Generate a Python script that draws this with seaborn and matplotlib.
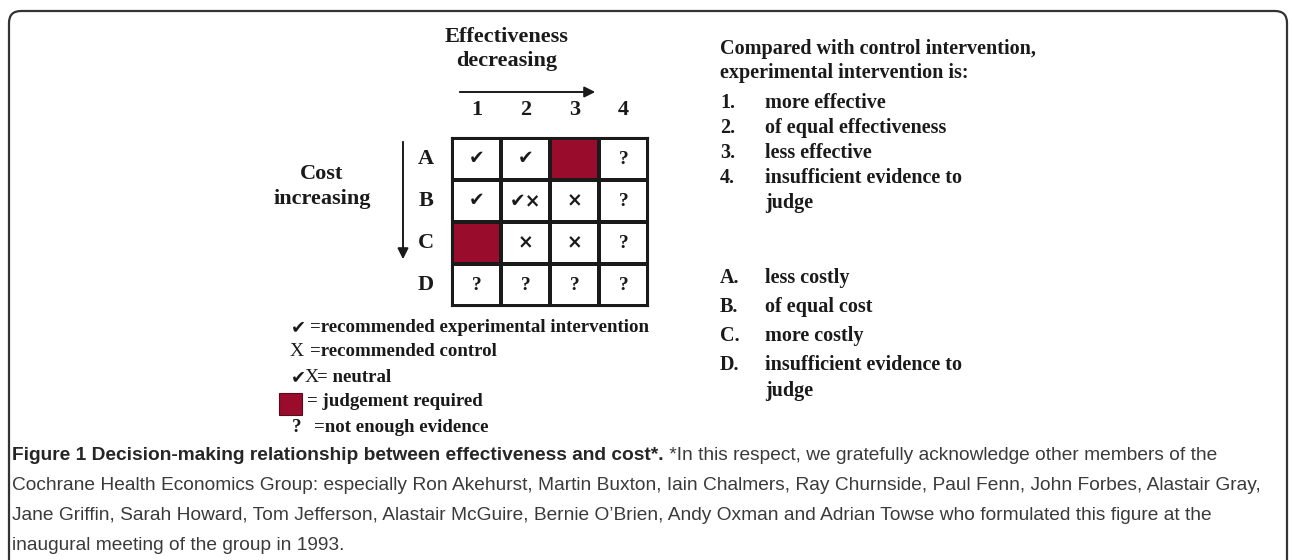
import numpy as np
import pandas as pd
import matplotlib.pyplot as plt
import seaborn as sns
from matplotlib.colors import ListedColormap
from matplotlib.patches import FancyBboxPatch, Rectangle

# grid data
col_labels = ["1", "2", "3", "4"]
row_labels = ["A", "B", "C", "D"]
marks = [["\u2714", "\u2714", "", "?"],
         ["\u2714", "\u2714\u00d7", "\u00d7", "?"],
         ["", "\u00d7", "\u00d7", "?"],
         ["?", "?", "?", "?"]]
judgement = [[0, 0, 1, 0],
             [0, 0, 0, 0],
             [1, 0, 0, 0],
             [0, 0, 0, 0]]

effect_items = ["more effective", "of equal effectiveness", "less effective",
                "insufficient evidence to\njudge"]
cost_items = ["less costly", "of equal cost", "more costly",
              "insufficient evidence to\njudge"]

caption_bold = "Figure 1 Decision-making relationship between effectiveness and cost*."
caption_lines = [
    " *In this respect, we gratefully acknowledge other members of the",
    "Cochrane Health Economics Group: especially Ron Akehurst, Martin Buxton, Iain Chalmers, Ray Churnside, Paul Fenn, John Forbes, Alastair Gray,",
    "Jane Griffin, Sarah Howard, Tom Jefferson, Alastair McGuire, Bernie O\u2019Brien, Andy Oxman and Adrian Towse who formulated this figure at the",
    "inaugural meeting of the group in 1993.",
]

red = "#990c2c"
ink = "#1a1a1a"
serif = ["Liberation Serif", "DejaVu Serif"]
sans = ["Liberation Sans", "DejaVu Sans"]

sns.set_theme(style="white")
W, H = 1292, 560
fig = plt.figure(figsize=(W / 100, H / 100), dpi=100)

# overlay in pixel coords
bg = fig.add_axes([0, 0, 1, 1])
bg.set_xlim(0, W)
bg.set_ylim(H, 0)
bg.axis("off")
bg.patch.set_alpha(0)

frame = FancyBboxPatch((9, 11), 1278, 620, boxstyle="round,pad=0,rounding_size=12",
                       fill=False, edgecolor="#333333", linewidth=1.6)
bg.add_patch(frame)

# heatmap grid
gx0, gy0, gx1, gy1 = 452, 138, 648, 306
ax = fig.add_axes([gx0 / W, 1 - gy1 / H, (gx1 - gx0) / W, (gy1 - gy0) / H])
df = pd.DataFrame(judgement, index=row_labels, columns=col_labels)
sns.heatmap(df, cmap=ListedColormap(["white", red]), cbar=False,
            annot=np.array(marks), fmt="", linewidths=1.5, linecolor=ink,
            annot_kws={"color": ink, "fontsize": 13.5, "fontweight": "bold",
                       "family": ["DejaVu Sans"]},
            ax=ax)
for t in ax.texts:
    if t.get_text() == "?":
        t.set_family(serif)
        t.set_fontsize(14)
ax.xaxis.tick_top()
ax.tick_params(length=0, pad=13)
ax.set_xticklabels(col_labels, rotation=0, fontsize=16, fontweight="bold",
                   family=serif, color=ink)
ax.set_yticklabels(row_labels, rotation=0, fontsize=16, fontweight="bold",
                   family=serif, color=ink)
ax.set_xlabel("")
ax.set_ylabel("")
for s in ax.spines.values():
    s.set_visible(True)
    s.set_color(ink)
    s.set_linewidth(1.5)

# axis titles and arrows
bg.text(507, 37, "Effectiveness", ha="center", va="center",
        fontsize=16, fontweight="bold", family=serif, color=ink)
bg.text(507, 61, "decreasing", ha="center", va="center",
        fontsize=16, fontweight="bold", family=serif, color=ink)
bg.annotate("", xy=(598, 92), xytext=(457, 92),
            arrowprops=dict(arrowstyle="-|>", color=ink, lw=1.4, mutation_scale=16))
bg.text(322, 174, "Cost", ha="center", va="center",
        fontsize=16, fontweight="bold", family=serif, color=ink)
bg.text(322, 199, "increasing", ha="center", va="center",
        fontsize=16, fontweight="bold", family=serif, color=ink)
bg.annotate("", xy=(403, 262), xytext=(403, 139),
            arrowprops=dict(arrowstyle="-|>", color=ink, lw=1.4, mutation_scale=16))

# legend under grid
lg = dict(fontsize=13.6, fontweight="bold", family=serif, color=ink, va="center")
chk = dict(fontsize=13, fontweight="bold", family=["DejaVu Sans"], color=ink, va="center")
bg.text(291, 327, "\u2714", **chk)
bg.text(310, 327, "=recommended experimental intervention", **lg)
bg.text(290, 351, "X", fontsize=14, family=serif, color=ink, va="center")
bg.text(310, 351, "=recommended control", **lg)
bg.text(291, 377, "\u2714", **chk)
bg.text(305, 377, "X", fontsize=14, family=serif, color=ink, va="center")
bg.text(317, 377, "= neutral", **lg)
bg.add_patch(Rectangle((279, 393), 23, 22, facecolor=red, edgecolor="#5a0a1a", lw=0.8))
bg.text(307, 402, "= judgement required", **lg)
bg.text(292, 428, "?", **lg)
bg.text(314, 428, "=not enough evidence", **lg)

# right-hand key
rk = dict(fontsize=14.5, fontweight="bold", family=serif, color=ink, va="center")
bg.text(720, 49, "Compared with control intervention,", **rk)
bg.text(720, 73, "experimental intervention is:", **rk)
for i, item in enumerate(effect_items):
    y = 103 + i * 25
    bg.text(720, y, f"{i + 1}.", **rk)
    for j, ln in enumerate(item.split("\n")):
        bg.text(765, y + j * 25, ln, **rk)
for i, item in enumerate(cost_items):
    y = 278 + i * 29
    bg.text(720, y, f"{row_labels[i]}.", **rk)
    for j, ln in enumerate(item.split("\n")):
        bg.text(765, y + j * 26, ln, **rk)

# caption: size fitted so the long second line spans the box width
probe = bg.text(12, 0, caption_lines[1], fontsize=12, family=sans)
fig.canvas.draw()
cap_size = 12 * 1253 / probe.get_window_extent().width
probe.remove()
cap = dict(fontsize=cap_size, family=sans, va="center")
t0 = bg.text(12, 455, caption_bold, fontweight="bold", color="#262626", **cap)
fig.canvas.draw()
bb = t0.get_window_extent()
bg.text(bb.x1, 455, caption_lines[0], color="#3a3a3a", **cap)
for k, ln in enumerate(caption_lines[1:]):
    bg.text(12, 485 + 30 * k, ln, color="#3a3a3a", **cap)

fig.savefig("out.png", dpi=100)
